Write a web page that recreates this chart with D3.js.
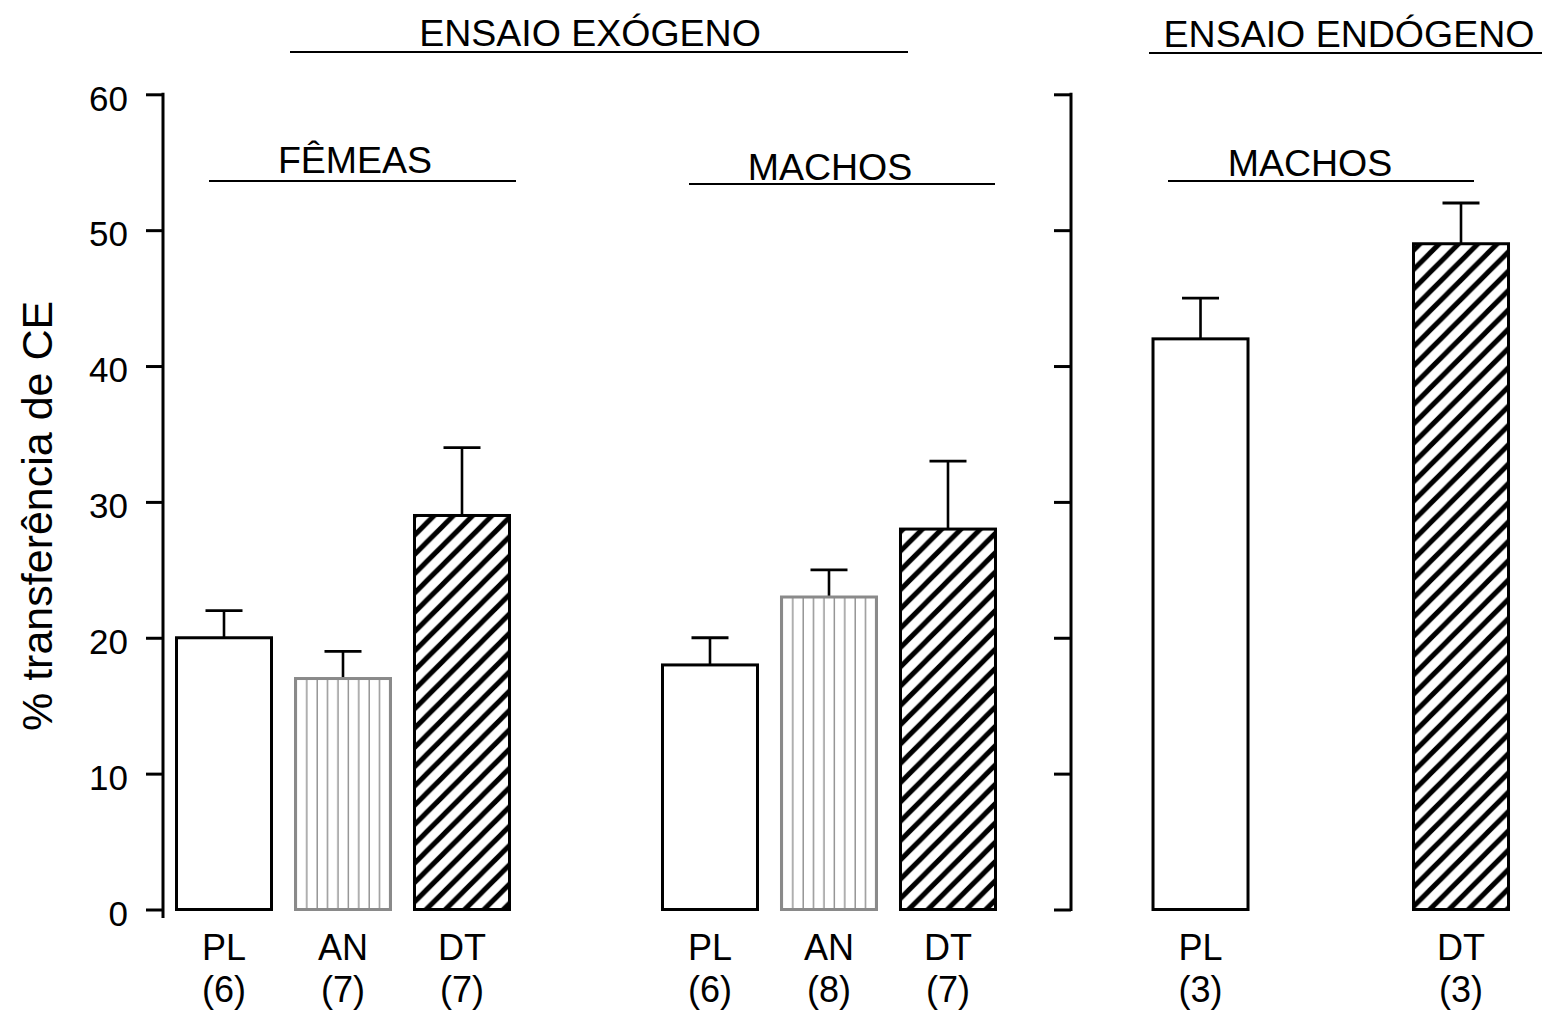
<!DOCTYPE html>
<html>
<head>
<meta charset="utf-8">
<script src="https://cdn.jsdelivr.net/npm/d3@7"></script>
<style>
  html, body { margin: 0; padding: 0; background: #fff; }
  text { font-family: "Liberation Sans", Arial, Helvetica, sans-serif; fill: #000; }
</style>
</head>
<body>
<svg id="chart" width="1542" height="1015"></svg>
<script>
// ---- data ----
const categories = ["PL", "AN", "DT", "PL", "AN", "DT", "PL", "DT"];
const counts     = ["(6)", "(7)", "(7)", "(6)", "(8)", "(7)", "(3)", "(3)"];
const groups     = ["FÊMEAS", "FÊMEAS", "FÊMEAS", "MACHOS", "MACHOS", "MACHOS", "MACHOS-E", "MACHOS-E"];
const means      = [20, 17, 29, 18, 23, 28, 42, 49];
const errors     = [2, 2, 5, 2, 2, 5, 3, 3];
const yTicks     = [0, 10, 20, 30, 40, 50, 60];
const yTitle     = "% transferência de CE";
const subHeaders = ["FÊMEAS", "MACHOS", "MACHOS"];
const topHeaders = ["ENSAIO EXÓGENO", "ENSAIO ENDÓGENO"];

// ---- layout ----
const svg = d3.select("#chart");
const slots = [0, 1, 2, 4.084, 5.084, 6.084, 8.206, 10.395];
const x = d3.scaleLinear().domain([0, 1]).range([224, 343]);
const y = d3.scaleLinear().domain([0, 60]).range([909.5, 94.3]);
const barW = 95;
const kind = c => c === "PL" ? "open" : (c === "AN" ? "vert" : "hatch");

const defs = svg.append("defs");
// diagonal hatch
const w = 19.3;
const hp = defs.append("pattern").attr("id", "hatch")
  .attr("patternUnits", "userSpaceOnUse").attr("width", w).attr("height", w)
  .attr("patternTransform", "translate(0,4)");
hp.append("rect").attr("width", w).attr("height", w).attr("fill", "#fff");
hp.append("path")
  .attr("d", `M0,${w} L${w},0 M${-w/2},${w/2} L${w/2},${-w/2} M${w/2},${w*1.5} L${w*1.5},${w/2}`)
  .attr("stroke", "#000").attr("stroke-width", 5);

const bars = categories.map((c, i) => ({ c, n: counts[i], m: means[i], e: errors[i], s: slots[i], i }));

// vertical-line patterns, aligned to each bar
bars.filter(d => kind(d.c) === "vert").forEach(d => {
  const p = defs.append("pattern").attr("id", "vert" + d.i)
    .attr("patternUnits", "userSpaceOnUse").attr("width", 10.4).attr("height", 20)
    .attr("x", x(d.s) - barW / 2 + 1.6);
  p.append("rect").attr("width", 10.4).attr("height", 20).attr("fill", "#fff");
  p.append("line").attr("x1", 10.4).attr("x2", 10.4).attr("y1", 0).attr("y2", 20)
    .attr("stroke", "#8f8f8f").attr("stroke-width", 2.8);
});

// ---- axes ----
const leftAxis = d3.axisLeft(y).tickValues(yTicks).tickSize(17).tickPadding(18).tickSizeOuter(0);
const gL = svg.append("g").attr("transform", "translate(163,0)").call(leftAxis);
gL.select(".domain").remove();
gL.selectAll(".tick line").attr("stroke", "#000").attr("stroke-width", 3);
gL.selectAll(".tick text").attr("font-size", 35).attr("dy", "0.45em")
  .style("font-family", '"Liberation Sans", Arial, sans-serif').attr("fill", "#000");
gL.append("line").attr("x1", 0).attr("x2", 0).attr("y1", y(60) - 1.5).attr("y2", y(0) + 8.5)
  .attr("stroke", "#000").attr("stroke-width", 3);

const rightAxis = d3.axisLeft(y).tickValues(yTicks).tickSize(17).tickFormat("").tickSizeOuter(0);
const gR = svg.append("g").attr("transform", "translate(1071,0)").call(rightAxis);
gR.select(".domain").remove();
gR.selectAll(".tick line").attr("stroke", "#000").attr("stroke-width", 3);
gR.append("line").attr("x1", 0).attr("x2", 0).attr("y1", y(60) - 1.5).attr("y2", y(0) + 1.5)
  .attr("stroke", "#000").attr("stroke-width", 3);

// y title
svg.append("text")
  .attr("transform", `translate(52,${(y(0) + y(60)) / 2 + 14}) rotate(-90)`)
  .attr("text-anchor", "middle").attr("font-size", 43).text(yTitle);

// ---- error bars ----
const eb = svg.append("g").selectAll("g").data(bars).join("g");
eb.append("line")
  .attr("x1", d => x(d.s)).attr("x2", d => x(d.s))
  .attr("y1", d => y(d.m)).attr("y2", d => y(d.m + d.e))
  .attr("stroke", "#000").attr("stroke-width", 2.6);
eb.append("line")
  .attr("x1", d => x(d.s) - 18.5).attr("x2", d => x(d.s) + 18.5)
  .attr("y1", d => y(d.m + d.e)).attr("y2", d => y(d.m + d.e))
  .attr("stroke", "#000").attr("stroke-width", 2.8);

// ---- bars ----
svg.append("g").selectAll("rect").data(bars).join("rect")
  .attr("x", d => x(d.s) - barW / 2)
  .attr("width", barW)
  .attr("y", d => y(d.m))
  .attr("height", d => y(0) - y(d.m))
  .attr("fill", d => kind(d.c) === "open" ? "#fff" : (kind(d.c) === "vert" ? `url(#vert${d.i})` : "url(#hatch)"))
  .attr("stroke", d => kind(d.c) === "vert" ? "#8a8a8a" : "#000")
  .attr("stroke-width", 3);

// ---- category labels ----
const lab = svg.append("g").selectAll("g").data(bars).join("g");
lab.append("text").attr("x", d => x(d.s)).attr("y", 960).attr("text-anchor", "middle")
  .attr("font-size", 36).text(d => d.c);
lab.append("text").attr("x", d => x(d.s)).attr("y", 1002).attr("text-anchor", "middle")
  .attr("font-size", 36).text(d => d.n);

// ---- sub headers ----
const subLayout = [
  { x1: 209, x2: 516, ly: 181, tx: 355, ty: 173 },
  { x1: 689, x2: 995, ly: 184, tx: 830, ty: 180 },
  { x1: 1168, x2: 1474, ly: 181, tx: 1310, ty: 176 }
];
subHeaders.forEach((t, i) => {
  const L = subLayout[i];
  svg.append("line").attr("x1", L.x1).attr("x2", L.x2).attr("y1", L.ly).attr("y2", L.ly)
    .attr("stroke", "#000").attr("stroke-width", 1.8);
  svg.append("text").attr("x", L.tx).attr("y", L.ty).attr("text-anchor", "middle")
    .attr("font-size", 37.5).text(t);
});

const topLayout = [
  { x1: 290, x2: 908, ly: 52, tx: 590, ty: 46 },
  { x1: 1149, x2: 1542, ly: 53, tx: 1349, ty: 47 }
];
topHeaders.forEach((t, i) => {
  const L = topLayout[i];
  svg.append("line").attr("x1", L.x1).attr("x2", L.x2).attr("y1", L.ly).attr("y2", L.ly)
    .attr("stroke", "#000").attr("stroke-width", 1.8);
  svg.append("text").attr("x", L.tx).attr("y", L.ty).attr("text-anchor", "middle")
    .attr("font-size", 37.5).text(t);
});
</script>
</body>
</html>
